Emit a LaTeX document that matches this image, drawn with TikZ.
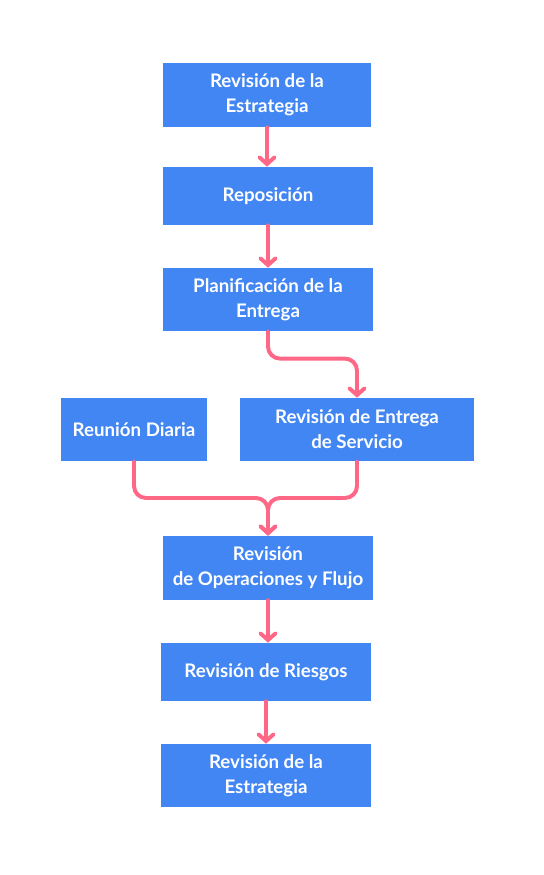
\documentclass[tikz,border=0pt]{standalone}
\usepackage{fontspec}
\setmainfont{Lato}
\usepackage{xcolor}
\usepackage{tikz}
\usetikzlibrary{arrows.meta}

\definecolor{boxblue}{HTML}{4286F4}
\definecolor{flowpink}{HTML}{FF6786}

\begin{document}
\begin{tikzpicture}[
	box/.style={fill=boxblue,text=white,align=center,inner sep=0pt,
		font=\bfseries\fontsize{13.3}{17.8}\selectfont},
	flow/.style={draw=flowpink,line width=2.8pt,line cap=round,rounded corners=0.3cm,
		-{Straight Barb[length=0.17cm,width=0.38cm,line cap=round]}}]
		\useasboundingbox (0,0) rectangle (13.6,21.875);
		%
		\node[box,minimum width=5.2cm,minimum height=1.6cm] (E) at (6.675,19.5) {Revisión de la\\Estrategia};
		\node[box,minimum width=5.25cm,minimum height=1.45cm] (R) at (6.7,16.975) {Reposición};
		\node[box,minimum width=5.25cm,minimum height=1.575cm] (P) at (6.7,14.3875) {Planificación de la\\Entrega};
		\node[box,minimum width=3.65cm,minimum height=1.575cm] (D) at (3.35,11.1375) {Reunión Diaria};
		\node[box,minimum width=5.85cm,minimum height=1.575cm] (S) at (8.925,11.1375) {Revisión de Entrega\\de Servicio};
		\node[box,minimum width=5.25cm,minimum height=1.6cm] (O) at (6.7,7.675) {Revisión\\de Operaciones y Flujo};
		\node[box,minimum width=5.25cm,minimum height=1.45cm] (G) at (6.65,5.075) {Revisión de Riesgos};
		\node[box,minimum width=5.25cm,minimum height=1.575cm] (E') at (6.65,2.4875) {Revisión de la\\Estrategia};
		%
		\coordinate (m1) at (6.675,12.91);
		\coordinate (m2) at (6.7,9.425);
		%
		\draw[flow] (E.south) -- (E.south |- R.north);
		\draw[flow] (R.south) -- (R.south |- P.north);
		\draw[flow] (P.south) -- (P.south |- m1) -- (S.north |- m1) -- (S.north);
		\draw[flow] (D.south) -- (D.south |- m2) -- (m2) -- (m2 |- O.north);
		\draw[flow] (S.south) -- (S.south |- m2) -- (m2) -- (m2 |- O.north);
		\draw[flow] (O.south) -- (O.south |- G.north);
		\draw[flow] (G.south) -- (G.south |- E'.north);
\end{tikzpicture}
\end{document}
